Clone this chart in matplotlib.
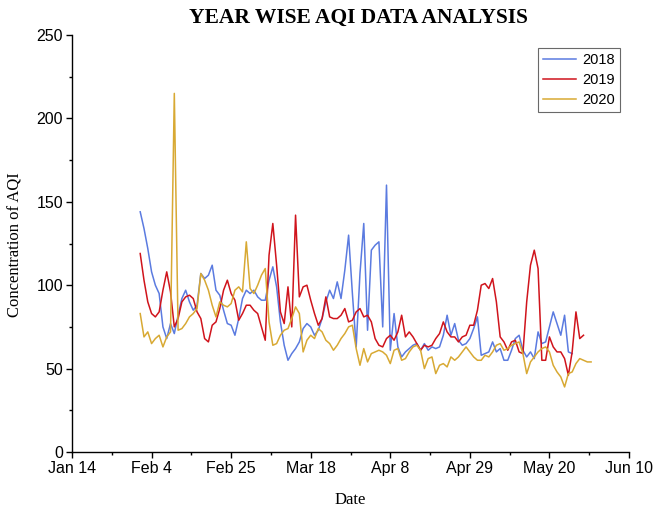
import matplotlib
matplotlib.use("Agg")
import matplotlib.pyplot as plt
import pandas as pd

# Daily AQI readings starting 1 Feb, one list per year
aqi_2018 = [144, 134, 122, 108, 100, 95, 75, 68, 77, 71,
            82, 92, 97, 90, 85, 88, 107, 104, 106, 112,
            97, 94, 85, 77, 76, 70, 80, 92, 97, 95,
            97, 93, 91, 91, 103, 111, 99, 78, 64, 55,
            59, 62, 66, 74, 77, 75, 70, 73, 80, 90,
            97, 92, 102, 92, 109, 130, 95, 63, 107, 137,
            73, 121, 124, 126, 75, 160, 61, 83, 63, 57,
            60, 62, 64, 65, 61, 65, 61, 63, 62, 63,
            70, 82, 70, 77, 67, 64, 65, 68, 74, 81,
            58, 59, 60, 66, 60, 62, 55, 55, 61, 68,
            70, 61, 57, 60, 56, 72, 65, 66, 75, 84,
            77, 70, 82, 60, 59]

aqi_2019 = [119, 103, 90, 83, 81, 84, 97, 108, 96, 75,
            80, 90, 93, 94, 92, 84, 80, 68, 66, 76,
            78, 86, 97, 103, 95, 91, 79, 83, 88, 88,
            85, 83, 75, 67, 118, 137, 112, 84, 77, 99,
            75, 142, 93, 99, 100, 91, 83, 76, 80, 93,
            81, 80, 80, 82, 86, 78, 79, 84, 86, 81,
            82, 78, 68, 64, 63, 68, 70, 67, 72, 82,
            69, 72, 69, 65, 61, 64, 63, 64, 68, 71,
            78, 72, 69, 69, 66, 69, 70, 76, 76, 85,
            100, 101, 98, 104, 90, 69, 66, 61, 66, 67,
            60, 59, 90, 112, 121, 110, 55, 55, 69, 63,
            60, 60, 56, 46, 60, 84, 68, 70]

aqi_2020 = [83, 69, 72, 65, 68, 70, 63, 69, 72, 215,
            73, 74, 77, 81, 83, 86, 107, 103, 97, 88,
            81, 90, 88, 87, 89, 97, 99, 96, 126, 98,
            95, 100, 106, 110, 78, 64, 65, 70, 73, 74,
            80, 87, 83, 60, 67, 70, 68, 74, 72, 67,
            65, 61, 64, 68, 71, 75, 76, 62, 52, 62,
            54, 59, 60, 61, 60, 58, 53, 61, 62, 55,
            56, 60, 63, 64, 61, 50, 56, 57, 47, 52,
            53, 51, 57, 55, 57, 60, 63, 60, 57, 55,
            55, 58, 57, 60, 64, 65, 61, 62, 64, 65,
            66, 59, 47, 54, 57, 60, 62, 63, 60, 52,
            48, 45, 39, 47, 48, 53, 56, 55, 54, 54]

years = ["2018", "2019", "2020"]
series = [aqi_2018, aqi_2019, aqi_2020]
line_colors = ["#5b7be0", "#d0141c", "#d8a933"]

# All years share one calendar so the seasons line up
start_date = "2019-02-01"
x_start, x_end = "2019-01-14", "2019-06-10"
tick_labels = ["Jan 14", "Feb 4", "Feb 25", "Mar 18", "Apr 8", "Apr 29", "May 20", "Jun 10"]

plt.rcParams["font.family"] = ["Liberation Sans", "DejaVu Sans"]
serif = ["Liberation Serif", "DejaVu Serif"]

fig = plt.figure(figsize=(6.55, 5.13), dpi=100)
ax = fig.add_axes([72 / 655, 1 - 452 / 513, (629 - 72) / 655, (452 - 35) / 513])

for label, values, color in zip(years, series, line_colors):
    dates = pd.date_range(start_date, periods=len(values), freq="D")
    ax.plot(dates, values, color=color, lw=1.1, label=label)

major = pd.date_range(x_start, x_end, freq="21D")
minor = major[:-1] + pd.Timedelta(hours=252)
ax.set_xlim(pd.Timestamp(x_start), pd.Timestamp(x_end))
ax.set_xticks(major)
ax.set_xticklabels(tick_labels)
ax.set_xticks(minor, minor=True)

ax.set_ylim(0, 250)
ax.set_yticks(range(0, 251, 50))
ax.set_yticks(range(25, 250, 50), minor=True)

for side in ("top", "right"):
    ax.spines[side].set_visible(False)
for side in ("left", "bottom"):
    ax.spines[side].set_linewidth(1.0)
ax.tick_params(which="major", direction="out", length=4.5, width=1.0,
               labelsize=11.5, pad=2)
ax.tick_params(which="minor", direction="out", length=2.5, width=1.0)

leg = ax.legend(loc="upper right", bbox_to_anchor=(620 / 655, 1 - 48 / 513),
                bbox_transform=fig.transFigure, borderaxespad=0,
                fontsize=10.5, frameon=True, fancybox=False,
                handlelength=2.3, handletextpad=0.4, labelspacing=0.4,
                borderpad=0.35)
leg.get_frame().set_edgecolor("#444444")
leg.get_frame().set_linewidth(0.8)

fig.text(358 / 655, 1 - 18 / 513, "YEAR WISE AQI DATA ANALYSIS",
         family=serif, weight="bold", fontsize=15.5, ha="center", va="center")
fig.text(350 / 655, 1 - 500 / 513, "Date", family=serif, fontsize=12,
         ha="center", va="center")
fig.text(16 / 655, 1 - 245 / 513, "Concentration of AQI", family=serif,
         fontsize=12, rotation=90, ha="center", va="center")

fig.savefig("out.png", dpi=100)
